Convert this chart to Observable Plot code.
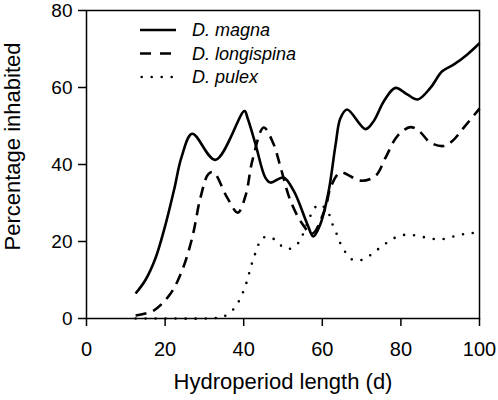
<!DOCTYPE html>
<html>
<head>
<meta charset="utf-8">
<script src="https://cdn.jsdelivr.net/npm/d3@7"></script>
<script src="https://cdn.jsdelivr.net/npm/@observablehq/plot@0.6"></script>
<style>
  html, body { margin: 0; padding: 0; background: white; }
  #wrap { position: relative; width: 498px; height: 400px; }
  #legend { position: absolute; left: 0; top: 0; pointer-events: none; }
</style>
</head>
<body>
<div id="wrap"></div>
<script>
// ---- data ----
const xTicks = [0, 20, 40, 60, 80, 100];
const yTicks = [0, 20, 40, 60, 80];
const xTitle = "Hydroperiod length (d)";
const yTitle = "Percentage inhabited";
const species = ["D. magna", "D. longispina", "D. pulex"];

const magnaX = [12.5, 15, 17.5, 20, 22.3, 24.2, 26.9, 32.8, 40.2, 41, 43, 45.5, 46.8, 50.1, 52.7, 56.2, 57.7, 59.5, 61.6, 63.4, 64.6, 66.3, 71, 73.1, 75.7, 78.6, 81.6, 84.3, 87.5, 90.5, 93.5, 96.9, 100];
const magnaY = [6.5, 10, 15.5, 24, 33.5, 42, 48, 41.2, 53.9, 52, 45.3, 36.6, 35.3, 36.6, 33.2, 24.5, 21.3, 24.5, 33, 45.3, 52, 54.3, 49.2, 51.3, 56.5, 59.9, 58.2, 56.9, 59.9, 64.2, 66, 68.6, 71.5];

const longiX = [12.5, 17, 21.4, 24.3, 26.9, 29, 31, 32.3, 35.8, 38.5, 40.5, 42.2, 45.1, 47.6, 49.4, 51.9, 54.9, 57.4, 60.8, 62.1, 64.6, 69.7, 73.5, 76.1, 79.1, 82.4, 84.6, 87.5, 90.9, 93.1, 96, 100];
const longiY = [0.8, 2, 6.5, 12.4, 21, 31.4, 37.5, 38, 31.4, 27.5, 32, 41, 49.6, 45.3, 39.2, 30.6, 24.6, 22, 28.8, 34, 37.9, 35.8, 37, 41.8, 47.4, 49.7, 48.7, 45.7, 44.8, 46.1, 49.6, 54.5];

const pulexX = [12.5, 20, 30, 34, 35.8, 37.9, 39.2, 40.2, 41, 41.7, 42.5, 43.4, 44.5, 46.8, 48.9, 51.2, 53.6, 54.9, 57, 58.3, 59.6, 61.7, 62.5, 63.6, 64.6, 65.9, 67.8, 70.3, 72.7, 74.8, 76.9, 79.2, 81.8, 84.4, 87.1, 89.7, 92.4, 95, 97.5, 100];
const pulexY = [0, 0, 0, 0.3, 1, 3, 5.4, 7.8, 10.3, 13, 15.6, 18.1, 20.7, 21.2, 19.4, 18, 19.3, 21.5, 26.7, 29, 29.6, 27.1, 24.7, 22.1, 19.5, 17.2, 15.2, 15.3, 16.8, 18.5, 20, 21.3, 21.8, 21.4, 20.9, 20.5, 21, 21.8, 22, 22.8];

// ---- build ----
const series = [
  {name: species[0], xs: magnaX, ys: magnaY},
  {name: species[1], xs: longiX, ys: longiY},
  {name: species[2], xs: pulexX, ys: pulexY}
];
const styles = {
  "D. magna": {dash: null, legendDash: null, cap: "butt"},
  "D. longispina": {dash: "11,7", legendDash: "11,9", cap: "butt"},
  "D. pulex": {dash: "0,10", legendDash: "0,10", cap: "round"}
};
const rows = s => s.xs.map((x, i) => ({x, y: s.ys[i], name: s.name}));

const font = "'Liberation Sans', Arial, Helvetica, sans-serif";

const chart = Plot.plot({
  width: 498,
  height: 400,
  marginLeft: 86,
  marginRight: 19,
  marginTop: 10,
  marginBottom: 82,
  style: {fontFamily: font, fontSize: "19px", color: "black", background: "white", overflow: "visible"},
  x: {domain: [0, 100]},
  y: {domain: [0, 80]},
  marks: [
    Plot.axisX({ticks: xTicks, tickSize: 8, tickPadding: 15, label: null, fontSize: 20, strokeWidth: 1.5}),
    Plot.axisY({ticks: yTicks, tickSize: 8, tickPadding: 6, label: null, fontSize: 19, strokeWidth: 1.5}),
    ...series.map(s => Plot.line(rows(s), {
      x: "x", y: "y", curve: "catmull-rom",
      stroke: "black", strokeWidth: 2.6,
      strokeDasharray: styles[s.name].dash,
      strokeLinecap: styles[s.name].cap
    })),
    Plot.frame({stroke: "black", strokeWidth: 1.5}),
    Plot.text([xTitle], {frameAnchor: "bottom", dy: 70, lineAnchor: "bottom", fontSize: 22, text: d => d}),
    Plot.text([yTitle], {frameAnchor: "left", textAnchor: "middle", rotate: -90, dx: -67, dy: -18, lineAnchor: "bottom", fontSize: 22, text: d => d})
  ]
});

const wrap = document.getElementById("wrap");
wrap.appendChild(chart);

// legend overlay
const ns = "http://www.w3.org/2000/svg";
const leg = document.createElementNS(ns, "svg");
leg.setAttribute("id", "legend");
leg.setAttribute("width", 498);
leg.setAttribute("height", 100);
const rowY = [30, 53.5, 77];
species.forEach((name, i) => {
  const st = styles[name];
  const ln = document.createElementNS(ns, "line");
  ln.setAttribute("x1", st.cap === "round" ? 141.7 : 140);
  ln.setAttribute("x2", 176);
  ln.setAttribute("y1", rowY[i]);
  ln.setAttribute("y2", rowY[i]);
  ln.setAttribute("stroke", "black");
  ln.setAttribute("stroke-width", 2.6);
  ln.setAttribute("stroke-linecap", st.cap);
  if (st.legendDash) ln.setAttribute("stroke-dasharray", st.legendDash);
  leg.appendChild(ln);
  const tx = document.createElementNS(ns, "text");
  tx.setAttribute("x", 192);
  tx.setAttribute("y", rowY[i]);
  tx.setAttribute("dy", "0.35em");
  tx.setAttribute("font-family", font);
  tx.setAttribute("font-size", 18);
  tx.setAttribute("font-style", "italic");
  tx.textContent = name;
  leg.appendChild(tx);
});
wrap.appendChild(leg);
</script>
</body>
</html>
